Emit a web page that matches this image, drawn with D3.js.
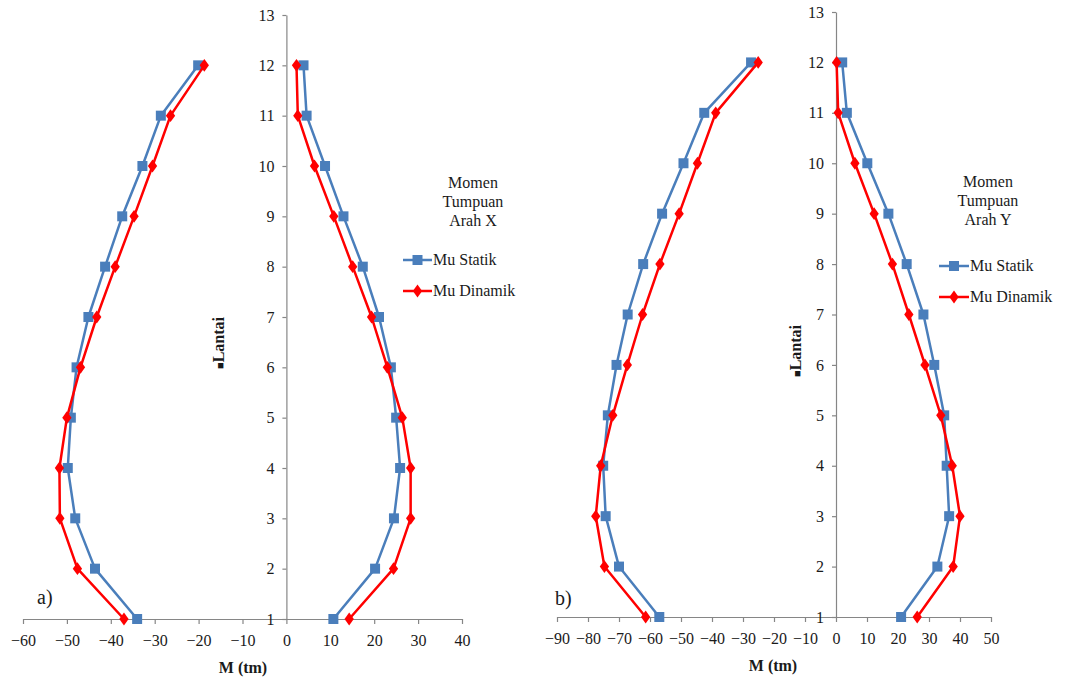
<!DOCTYPE html>
<html>
<head>
<meta charset="utf-8">
<script src="https://cdn.jsdelivr.net/npm/d3@7/dist/d3.min.js"></script>
<style>
  html, body { margin: 0; padding: 0; background: #fff; }
  svg { display: block; }
</style>
</head>
<body>
<svg id="chart" width="1065" height="680"></svg>
<script>
// Floors (lantai)
const floors = [1, 2, 3, 4, 5, 6, 7, 8, 9, 10, 11, 12];
const floorTicks = [1, 2, 3, 4, 5, 6, 7, 8, 9, 10, 11, 12, 13];

// a) Momen tumpuan arah X (tm)
const xStatikNeg  = [-34, -43.6, -48.1, -49.8, -49.1, -47.8, -45.1, -41.3, -37.4, -32.8, -28.6, -20.1];
const xDinamikNeg = [-37, -47.6, -51.6, -51.7, -50.0, -46.9, -43.2, -39.0, -34.7, -30.5, -26.4, -18.7];
const xStatikPos  = [10.7, 20.2, 24.5, 25.9, 25.0, 23.8, 21.1, 17.4, 13.0, 8.8, 4.6, 3.9];
const xDinamikPos = [14.3, 24.4, 28.3, 28.3, 26.4, 23.0, 19.4, 15.1, 10.8, 6.4, 2.6, 2.3];
const xTicksA = [-60, -50, -40, -30, -20, -10, 0, 10, 20, 30, 40];

// b) Momen tumpuan arah Y (tm)
const yStatikNeg  = [-57.0, -70.0, -74.3, -75.1, -73.6, -70.8, -67.2, -62.2, -56.1, -49.2, -42.5, -27.4];
const yDinamikNeg = [-61.4, -74.7, -77.5, -75.9, -72.0, -67.3, -62.4, -56.8, -50.6, -44.7, -38.8, -25.1];
const yStatikPos  = [21.0, 32.7, 36.5, 35.7, 34.9, 31.7, 28.2, 22.8, 16.9, 10.1, 3.5, 2.0];
const yDinamikPos = [26.2, 37.8, 40.0, 37.5, 33.8, 28.7, 23.5, 18.2, 12.3, 6.1, 0.7, 0.2];
const xTicksB = [-90, -80, -70, -60, -50, -40, -30, -20, -10, 0, 10, 20, 30, 40, 50];

const seriesNames = ["Mu Statik", "Mu Dinamik"];
const BLUE = "#4a7ebb", RED = "#ff0000", AXIS = "#868686", INK = "#1a1a1a";
const FONT = "'Liberation Serif', 'Times New Roman', 'DejaVu Serif', serif";

const svg = d3.select("#chart")
  .attr("font-family", FONT);

function drawPanel(cfg) {
  const g = svg.append("g").attr("font-family", FONT);
  const x = d3.scaleLinear().domain(cfg.xDomain).range(cfg.xRange);
  const y = d3.scaleLinear().domain([1, 13]).range(cfg.yRange);

  // x axis along floor 1
  const xa = g.append("g")
    .attr("transform", `translate(0,${y(1)})`)
    .call(d3.axisBottom(x).tickValues(cfg.xTicks).tickSize(5).tickPadding(11).tickSizeOuter(0));
  // y axis through M = 0
  const ya = g.append("g")
    .attr("transform", `translate(${x(0)},0)`)
    .call(d3.axisLeft(y).tickValues(floorTicks).tickSize(4).tickPadding(8).tickSizeOuter(0));
  [xa, ya].forEach(a => {
    a.attr("font-family", FONT).attr("font-size", 16);
    a.select(".domain").attr("stroke", AXIS).attr("stroke-width", 1.2);
    a.selectAll(".tick line").attr("stroke", AXIS).attr("stroke-width", 1.2);
    a.selectAll(".tick text").attr("fill", INK);
  });

  const line = d3.line().x(d => x(d[0])).y(d => y(d[1]));
  const pairs = vals => vals.map((v, i) => [v, floors[i]]);
  const square = d3.symbol().type(d3.symbolSquare).size(100);
  const diamond = d3.symbol().type(d3.symbolDiamond).size(48);

  const sets = [
    { vals: cfg.statikNeg, color: BLUE, sym: square, sx: 1 },
    { vals: cfg.statikPos, color: BLUE, sym: square, sx: 1 },
    { vals: cfg.dinamikNeg, color: RED, sym: diamond, sx: 1.25 },
    { vals: cfg.dinamikPos, color: RED, sym: diamond, sx: 1.25 }
  ];
  sets.forEach(s => {
    const pts = pairs(s.vals);
    g.append("path").datum(pts)
      .attr("d", line).attr("fill", "none")
      .attr("stroke", s.color).attr("stroke-width", 2.5).attr("stroke-linejoin", "round");
    g.selectAll(null).data(pts).enter().append("path")
      .attr("d", s.sym)
      .attr("transform", d => `translate(${x(d[0])},${y(d[1])}) scale(${s.sx},1)`)
      .attr("fill", s.color);
  });

  // axis titles
  g.append("text").attr("x", cfg.mTitle[0]).attr("y", cfg.mTitle[1])
    .attr("text-anchor", "middle").attr("font-size", 16).attr("font-weight", "bold")
    .attr("fill", INK).text("M (tm)");
  const lt = g.append("text")
    .attr("transform", `translate(${cfg.lantai[0]},${cfg.lantai[1]}) rotate(-90)`)
    .attr("text-anchor", "middle").attr("font-size", 16).attr("font-weight", "bold")
    .attr("fill", INK);
  lt.append("tspan").attr("font-size", 11).text("■");
  lt.append("tspan").text("Lantai");

  // panel label
  g.append("text").attr("x", cfg.tag[0]).attr("y", cfg.tag[1])
    .attr("font-size", 20).attr("fill", INK).text(cfg.tagText);

  // legend
  const lg = g.append("g");
  cfg.legendTitle.forEach((t, i) => {
    lg.append("text").attr("x", cfg.legendTitleX).attr("y", cfg.legendTitleY + i * 19)
      .attr("text-anchor", "middle").attr("font-size", 16).attr("fill", INK).text(t);
  });
  seriesNames.forEach((name, i) => {
    const ly = cfg.legendItemY[i];
    const color = i === 0 ? BLUE : RED;
    lg.append("line").attr("x1", cfg.legendX[0]).attr("x2", cfg.legendX[1])
      .attr("y1", ly).attr("y2", ly).attr("stroke", color).attr("stroke-width", 2.5);
    const mx = (cfg.legendX[0] + cfg.legendX[1]) / 2;
    lg.append("path")
      .attr("d", i === 0 ? square() : diamond())
      .attr("transform", `translate(${mx},${ly}) scale(${i === 1 ? 1.25 : 1},1)`)
      .attr("fill", color);
    lg.append("text").attr("x", cfg.legendX[1] + 1).attr("y", ly + 5)
      .attr("font-size", 16).attr("fill", INK).text(name);
  });
}

drawPanel({
  xDomain: [-60, 40], xRange: [23, 462], yRange: [619, 15], xTicks: xTicksA,
  statikNeg: xStatikNeg, statikPos: xStatikPos, dinamikNeg: xDinamikNeg, dinamikPos: xDinamikPos,
  mTitle: [243, 673], lantai: [224, 343], tag: [37, 604], tagText: "a)",
  legendTitle: ["Momen", "Tumpuan", "Arah X"], legendTitleX: 473, legendTitleY: 188,
  legendX: [403, 432], legendItemY: [260, 291]
});

drawPanel({
  xDomain: [-90, 50], xRange: [557, 991], yRange: [617, 12], xTicks: xTicksB,
  statikNeg: yStatikNeg, statikPos: yStatikPos, dinamikNeg: yDinamikNeg, dinamikPos: yDinamikPos,
  mTitle: [773, 671], lantai: [801, 351], tag: [555, 605], tagText: "b)",
  legendTitle: ["Momen", "Tumpuan", "Arah Y"], legendTitleX: 988, legendTitleY: 187,
  legendX: [939, 969], legendItemY: [266, 297]
});
</script>
</body>
</html>
